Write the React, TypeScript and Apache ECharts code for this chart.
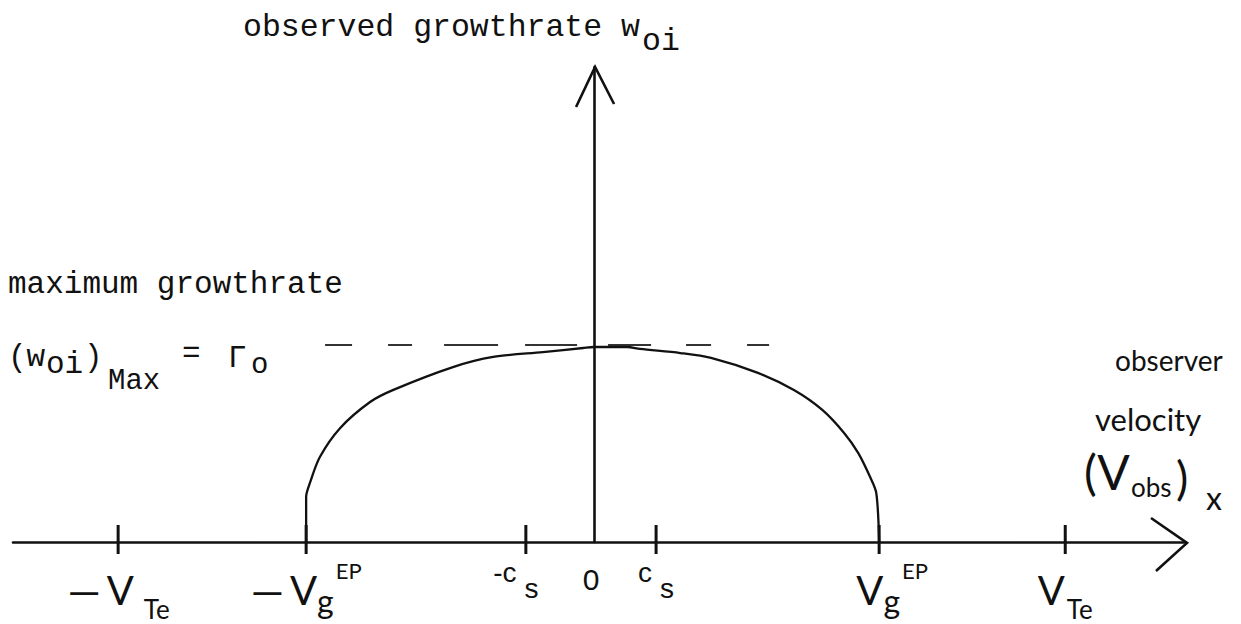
import React, { useEffect, useRef } from "react";
import * as echarts from "echarts";

// Horizontal unit: V_Te ; vertical unit: Gamma_0
const X_MIN = -1.227;
const X_MAX = 1.25;
const Y_MIN = 0;
const Y_MAX = 2.436;

const CURVE_X = [
  -0.608, -0.608, -0.6, -0.579, -0.536, -0.473, -0.425, -0.298, -0.213, -0.108,
  -0.023, 0, 0.07, 0.097, 0.182, 0.247, 0.346, 0.422, 0.482, 0.528, 0.558, 0.583,
  0.596, 0.602,
];
const CURVE_Y = [
  0, 0.231, 0.303, 0.436, 0.585, 0.718, 0.779, 0.897, 0.949, 0.974, 0.995, 1.0,
  1.0, 0.99, 0.969, 0.944, 0.867, 0.779, 0.677, 0.559, 0.456, 0.333, 0.251, 0,
];

const GAMMA0_LEVEL = 1.01;
const GAMMA0_SPAN = [-0.568, 0.37];

const TICK_VALUES = [-1.005, -0.608, -0.144, 0.131, 0.602, 0.995];
const TICK_LABEL_VALUES = [-1.005, -0.608, -0.144, 0, 0.131, 0.602, 0.995];
const TICK_LABELS = [
  "{dA|—}{hV|V}{sTe|Te}",
  "{dB|—}{hV|V}{sG|g}{sEP|EP}",
  "{mC|-c}{mS2|s}",
  "{zero|0}",
  "{mC2|c}{mS|s}",
  "{hVR|V}{sG|g}{sEP|EP}",
  "{hV|V}{sTe2|Te}",
];

const TITLE_MAIN = "observed growthrate w";
const TITLE_SUB = "oi";
const MAX_LINE1 = "maximum growthrate";

const HAND = "Lato, 'Open Sans', 'DejaVu Sans', sans-serif";
const TYPE = "'Courier New', 'Liberation Mono', monospace";
const SANS = "'Liberation Sans', Arial, sans-serif";
const INK = "#111";

function txt(text: string, x: number, y: number, fontSize: number, fontFamily: string, weight: string | number = "normal") {
  return {
    type: "text",
    x,
    y,
    silent: true,
    style: {
      text,
      fontSize,
      fontFamily,
      fontWeight: weight,
      fill: INK,
      align: "left",
      verticalAlign: "middle",
      textAlign: "left",
      textVerticalAlign: "middle",
    },
  };
}

export default function App() {
  const ref = useRef<HTMLDivElement>(null);

  useEffect(() => {
    if (!ref.current) return;
    const chart = echarts.init(ref.current, null, { renderer: "svg" });

    const LH = 80;
    const base = { lineHeight: LH, verticalAlign: "middle", color: INK };
    const rich: any = {
      dA: { ...base, fontFamily: HAND, fontSize: 42, padding: [0, 6, 0, 1] },
      dB: { ...base, fontFamily: HAND, fontSize: 42, padding: [0, 6, 0, 0] },
      hV: { ...base, fontFamily: HAND, fontSize: 40 },
      hVR: { ...base, fontFamily: HAND, fontSize: 40, padding: [0, 0, 0, 26] },
      sTe: { ...base, fontFamily: HAND, fontSize: 26, padding: [38, 0, 0, 10] },
      sTe2: { ...base, fontFamily: HAND, fontSize: 26, padding: [38, 0, 0, 2] },
      sG: { ...base, fontFamily: HAND, fontSize: 32, padding: [20, 0, 0, 0] },
      sEP: { ...base, fontFamily: HAND, fontSize: 22, padding: [0, 0, 40, 2] },
      mC: { ...base, fontFamily: SANS, fontSize: 28, padding: [0, 0, 36, 0] },
      mC2: { ...base, fontFamily: SANS, fontSize: 28, padding: [0, 0, 36, 0] },
      mS: { ...base, fontFamily: SANS, fontSize: 28, padding: [0, 0, 4, 8] },
      mS2: { ...base, fontFamily: SANS, fontSize: 28, padding: [0, 20, 4, 8] },
      zero: { ...base, fontFamily: SANS, fontSize: 30, padding: [0, 6, 22, 0] },
    };

    const axisLine = { show: true, onZero: true, lineStyle: { color: INK, width: 2.6 } };

    const option: any = {
      animation: false,
      backgroundColor: "#ffffff",
      grid: { left: 13, right: 55, top: 67, bottom: 82, containLabel: false, outerBoundsMode: "none" },
      xAxis: {
        type: "value",
        min: X_MIN,
        max: X_MAX,
        axisLine,
        axisTick: { show: false },
        splitLine: { show: false },
        axisLabel: {
          show: true,
          customValues: TICK_LABEL_VALUES,
          margin: 8,
          lineHeight: LH,
          rich,
          formatter: (v: number) => {
            let best = 0;
            let bd = Infinity;
            TICK_LABEL_VALUES.forEach((t, i) => {
              const d = Math.abs(t - v);
              if (d < bd) { bd = d; best = i; }
            });
            return TICK_LABELS[best];
          },
        },
      },
      yAxis: {
        type: "value",
        min: Y_MIN,
        max: Y_MAX,
        axisLine,
        axisTick: { show: false },
        axisLabel: { show: false },
        splitLine: { show: false },
      },
      series: [
        {
          type: "line",
          data: CURVE_X.map((x, i) => [x, CURVE_Y[i]]),
          symbol: "none",
          smooth: 0.3,
          clip: false,
          lineStyle: { color: INK, width: 2.3 },
          z: 3,
        },
        {
          type: "line",
          data: GAMMA0_SPAN.map((x) => [x, GAMMA0_LEVEL]),
          symbol: "none",
          clip: false,
          lineStyle: {
            color: "#333",
            width: 2,
            type: [27, 36, 24, 32, 54, 27, 52, 31, 43, 35, 25, 36, 22, 200],
          },
          z: 2,
        },
        {
          type: "custom",
          coordinateSystem: "cartesian2d",
          data: TICK_VALUES.map((v) => [v, 0]),
          clip: false,
          renderItem: (params: any, api: any) => {
            const p = api.coord([api.value(0), 0]);
            return {
              type: "line",
              shape: { x1: p[0], y1: p[1] - 17, x2: p[0], y2: p[1] + 12 },
              style: { stroke: INK, lineWidth: 3 },
            };
          },
          z: 4,
        },
        {
          type: "custom",
          coordinateSystem: "cartesian2d",
          data: [[0, 0]],
          clip: false,
          renderItem: (params: any, api: any) => {
            const xe = api.coord([X_MAX, 0]);
            const ye = api.coord([0, Y_MAX]);
            const st = { stroke: INK, lineWidth: 2.6, fill: "none", lineJoin: "miter" };
            return {
              type: "group",
              children: [
                {
                  type: "polyline",
                  shape: { points: [[xe[0] - 35, xe[1] - 24], [xe[0] + 1, xe[1] + 1], [xe[0] - 30, xe[1] + 29]] },
                  style: st,
                },
                {
                  type: "polyline",
                  shape: { points: [[ye[0] - 18, ye[1] + 40], [ye[0] + 1, ye[1]], [ye[0] + 20, ye[1] + 37]] },
                  style: st,
                },
              ],
            };
          },
          z: 4,
        },
      ],
      graphic: [
        txt(TITLE_MAIN, 243, 27, 31.5, TYPE),
        txt(TITLE_SUB, 642, 41, 31.5, TYPE),
        txt(MAX_LINE1, 8, 284, 31, TYPE),
        txt("(w", 8, 357, 31, TYPE),
        txt("oi", 46, 364, 31, TYPE),
        txt(")", 84, 357, 31, TYPE),
        txt("Max", 108, 381, 29, TYPE),
        txt("=", 182, 353, 31, TYPE),
        txt("Γ", 228, 358, 31, TYPE),
        txt("o", 251, 365, 29, TYPE),
        txt("observer", 1115, 360, 28, HAND),
        txt("velocity", 1095, 419, 31, HAND),
        txt("(V", 1084, 471, 48, HAND),
        txt("obs", 1131, 487, 26, HAND),
        txt(")", 1176, 477, 46, HAND),
        txt("x", 1206, 497, 32, HAND),
      ],
    };

    chart.setOption(option);
    return () => chart.dispose();
  }, []);

  return (
    <div
      ref={ref}
      style={{ position: "fixed", left: 0, top: 0, width: 1241, height: 624, background: "#fff" }}
    />
  );
}
